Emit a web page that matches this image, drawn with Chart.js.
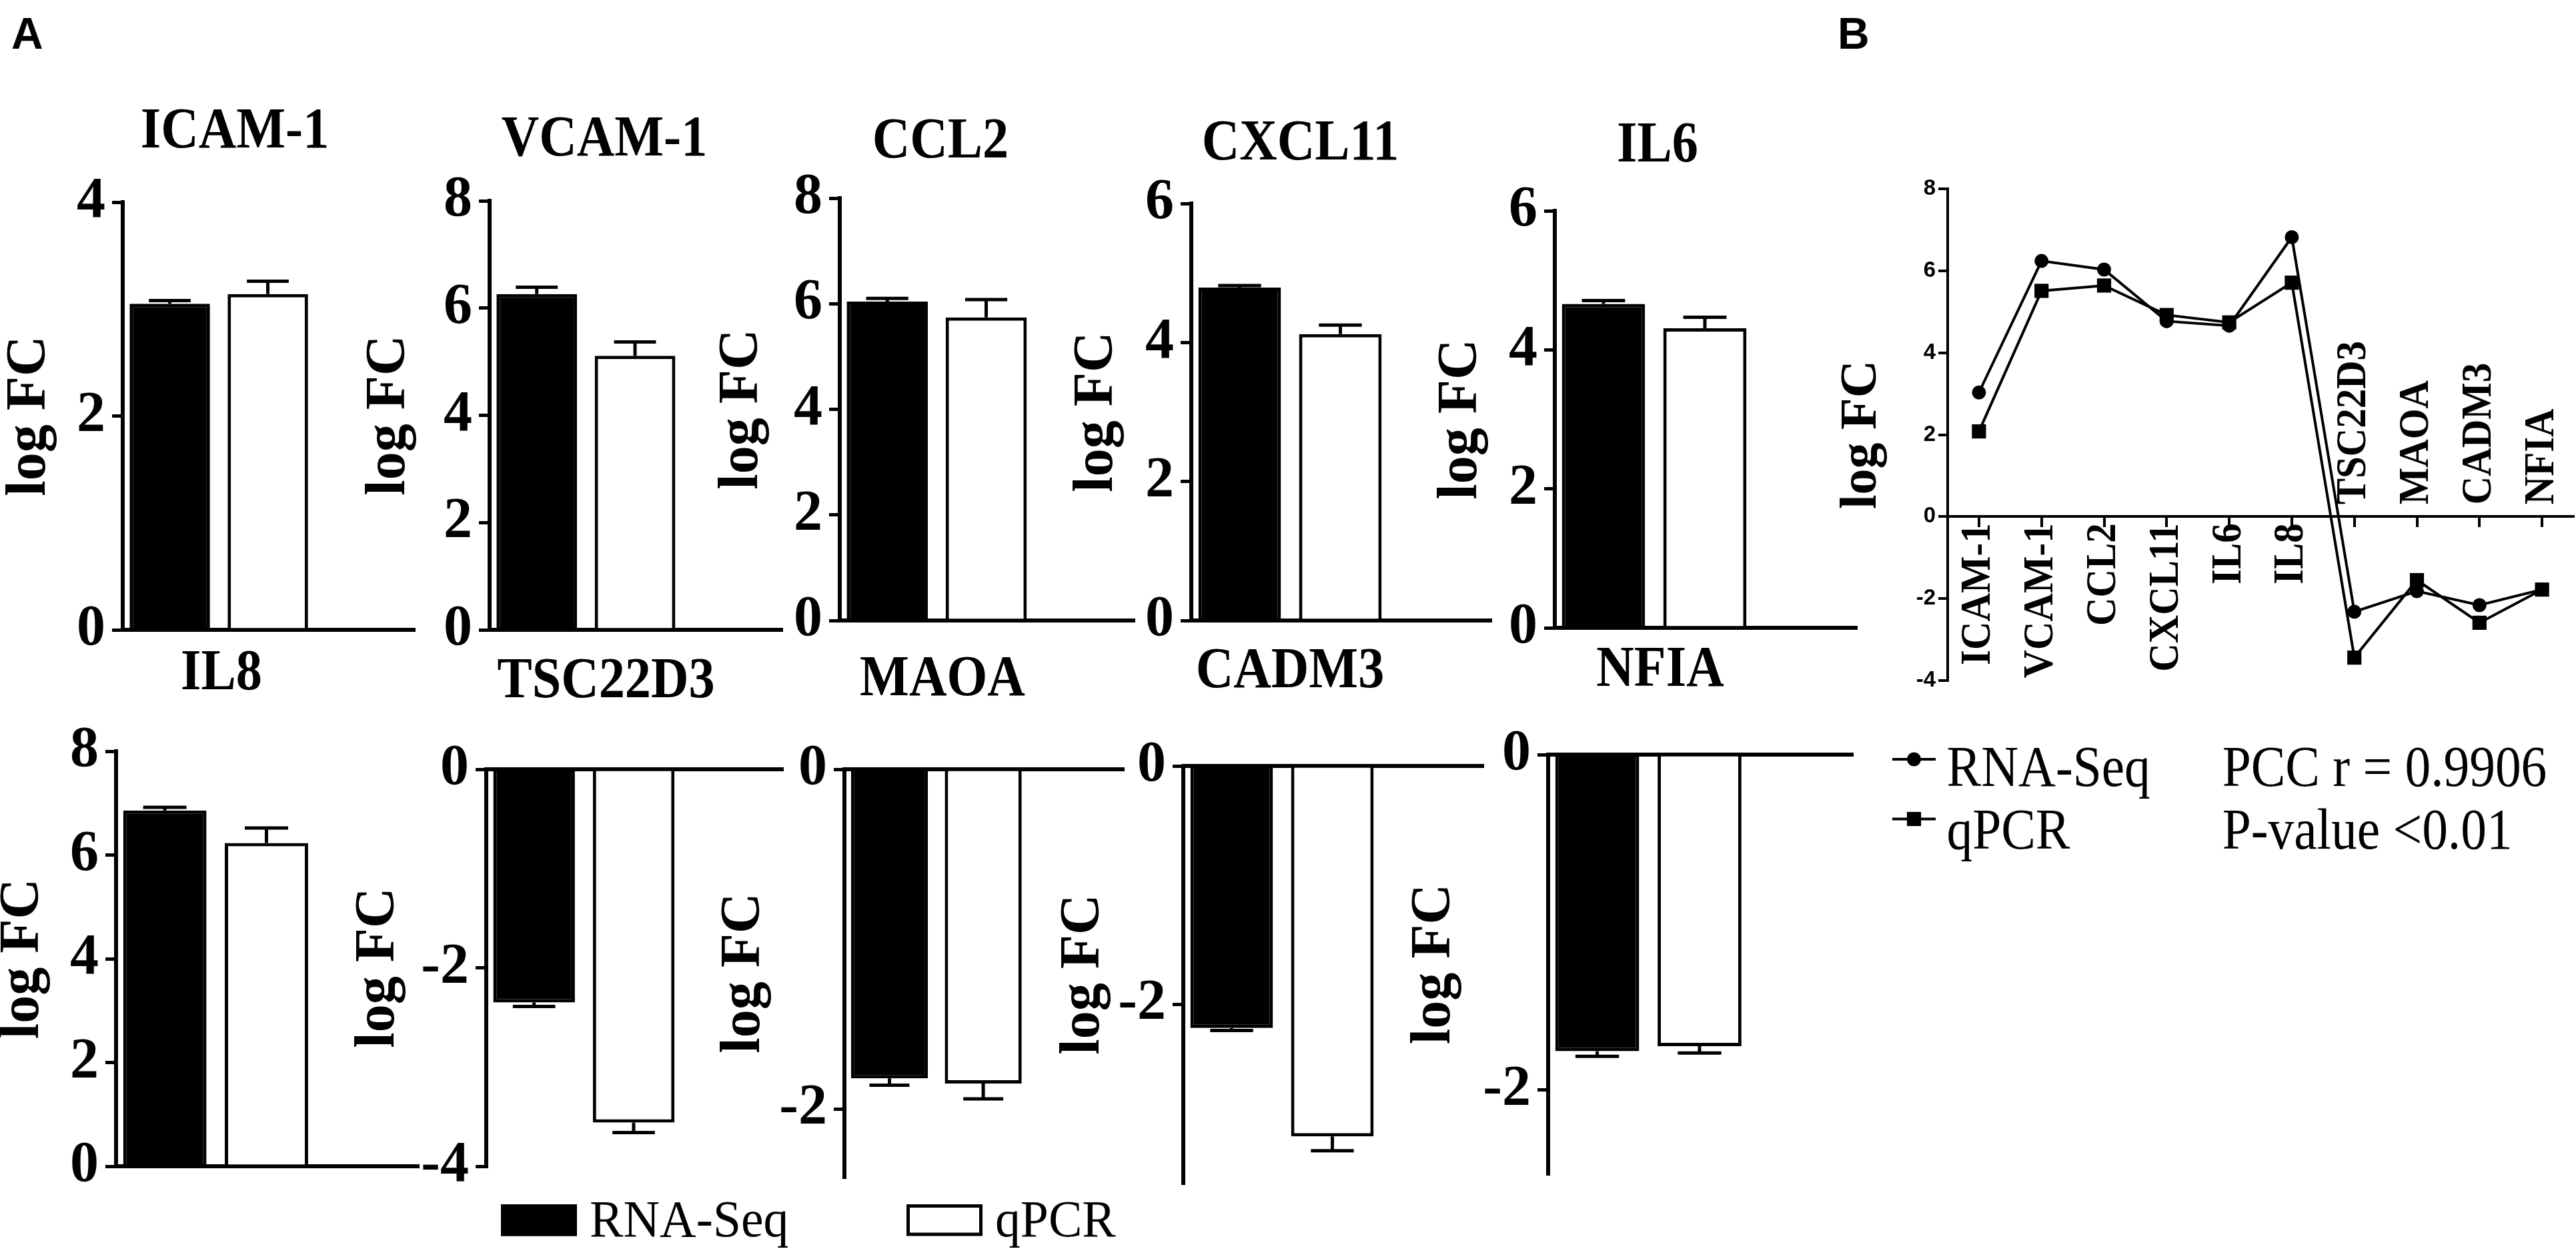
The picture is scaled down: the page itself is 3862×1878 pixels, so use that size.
<!DOCTYPE html>
<html><head><meta charset="utf-8">
<script src="https://cdn.jsdelivr.net/npm/chart.js@4.4.1/dist/chart.umd.min.js"></script>
<style>
html,body{margin:0;padding:0;background:#fff;width:3862px;height:1878px;overflow:hidden;position:relative;}
canvas{position:absolute;}
.panel{position:absolute;font-family:'Liberation Sans',Arial,sans-serif;font-weight:bold;font-size:66px;line-height:66px;color:#000;}
</style></head>
<body>
<div class="panel" style="left:17px;top:17px;">A</div>
<div class="panel" style="left:2755px;top:17px;">B</div>
<script>
// ---------------- data ----------------
const genes = ['ICAM-1','VCAM-1','CCL2','CXCL11','IL6','IL8','TSC22D3','MAOA','CADM3','NFIA'];
const seriesNames = ['RNA-Seq','qPCR'];
// Panel A bars (log FC) and error bars
const rnaSeqFC  = [3.05, 6.26, 6.04, 4.79, 4.66, 6.86, -2.35, -1.82, -2.20, -1.77];
const rnaSeqErr = [0.03, 0.13, 0.06, 0.03, 0.05, 0.06, 0.04, 0.04, 0.02, 0.03];
const qpcrFC    = [3.14, 5.11, 5.74, 4.12, 4.31, 6.23, -3.56, -1.85, -3.11, -1.74];
const qpcrErr   = [0.12, 0.26, 0.34, 0.13, 0.16, 0.29, 0.10, 0.09, 0.12, 0.04];
// Panel A axis ranges
const axisMin = [0, 0, 0, 0, 0, 0, -4, -2.4, -3.5, -2.5];
const axisMax = [4, 8, 8, 6, 6, 8, 0, 0, 0, 0];
// Panel B lines
const lineRnaSeq = [3.03, 6.24, 6.03, 4.77, 4.66, 6.82, -2.32, -1.82, -2.16, -1.78];
const lineQpcr   = [2.08, 5.51, 5.64, 4.92, 4.74, 5.71, -3.44, -1.55, -2.59, -1.78];
const notesB = ['PCC r = 0.9906', 'P-value <0.01'];

// ---------------- layout (page pixels) ----------------
const areas = [
  [184,303,622,944],[734,301,1173,944],[1259,297,1701,930],[1785.5,305,2235,930],[2330.5,316,2783,941],
  [174,1126,628,1748],[729,1153,1174,1748],[1266,1153,1685,1764],[1774,1148,2224,1773],[2321,1130.5,2778,1758]
];
const titlePos = [[352,221],[906,233],[1410,236],[1949,239],[2484.5,242],[332,1033],[908.5,1045],[1413,1042],[1934,1030],[2489,1027]];
const yTitlePad = [34,23.5,27,32.5,33.5,34,12,23,24,3];
const legendHost = 6;
const legendA = {boxX:[751,1359], boxY:1805, boxW:114, boxH:47.5, gap:19, baseline:1852.5};
const areaB = [2920,282.5,3858,1019];
const legendB = {lineX:[2837,2902], rowY:[1137.5,1227], textX:2918.5, baseline:[1177,1271.5], noteX:3331.7};

const SERIF = "'Liberation Serif','Times New Roman',serif";
const SANS = "'Liberation Sans',Arial,sans-serif";
const INK = '#000';
const seriesFill = ['#000000', '#ffffff'];
Chart.defaults.font.family = SERIF;

function condensedText(ctx, text, x, y, font, sx, align) {
  ctx.save(); ctx.translate(x, y); ctx.scale(sx, 1);
  ctx.font = font; ctx.textAlign = align; ctx.textBaseline = 'alphabetic';
  ctx.fillText(text, 0, 0); ctx.restore();
}

const errorBarPlugin = {
  id: 'errorBars',
  afterDatasetsDraw(chart) {
    const ctx = chart.ctx, ys = chart.scales.y;
    chart.data.datasets.forEach((ds, di) => {
      const meta = chart.getDatasetMeta(di);
      meta.data.forEach((el, j) => {
        const v = ds.data[j].y, e = ds.errors[j], dir = v < 0 ? -1 : 1;
        const yv = ys.getPixelForValue(v), ye = ys.getPixelForValue(v + dir * e);
        const half = el.width * 0.26;
        ctx.save(); ctx.strokeStyle = INK; ctx.lineWidth = 5;
        ctx.beginPath(); ctx.moveTo(el.x, yv); ctx.lineTo(el.x, ye);
        ctx.moveTo(el.x - half, ye); ctx.lineTo(el.x + half, ye); ctx.stroke(); ctx.restore();
      });
    });
  }
};

function pagePlugin(area, draw) {
  return { id: 'pageText', afterDraw(chart) {
    const ca = chart.chartArea, ctx = chart.ctx;
    ctx.save(); ctx.translate(ca.left - area[0], ca.top - area[1]);
    ctx.fillStyle = INK; ctx.strokeStyle = INK;
    draw(ctx, chart); ctx.restore();
  }};
}

function drawBarLegend(ctx, datasets) {
  datasets.forEach((ds, k) => {
    const x = legendA.boxX[k], y = legendA.boxY;
    ctx.fillStyle = ds.backgroundColor; ctx.fillRect(x, y, legendA.boxW, legendA.boxH);
    ctx.strokeStyle = ds.borderColor; ctx.lineWidth = 5;
    ctx.strokeRect(x + 2.5, y + 2.5, legendA.boxW - 5, legendA.boxH - 5);
    ctx.fillStyle = INK;
    condensedText(ctx, ds.label, x + legendA.boxW + legendA.gap, legendA.baseline, `78px ${SERIF}`, 0.97, 'left');
  });
}

function barConfig(i) {
  const neg = axisMax[i] <= 0;
  const errs = [rnaSeqErr, qpcrErr];
  const datasets = [rnaSeqFC, qpcrFC].map((vals, k) => ({
    label: seriesNames[k],
    data: [{x: k, y: vals[i]}],
    errors: [errs[k][i]],
    backgroundColor: seriesFill[k], borderColor: INK, borderWidth: 5,
    grouped: false, barPercentage: 0.82, categoryPercentage: 1
  }));
  const plugins = [errorBarPlugin, pagePlugin(areas[i], (ctx) => {
    condensedText(ctx, genes[i], titlePos[i][0], titlePos[i][1], `bold 86px ${SERIF}`, 0.91, 'center');
    if (i === legendHost) drawBarLegend(ctx, datasets);
  })];
  return {
    type: 'bar', data: {datasets}, plugins,
    options: {
      responsive: false, maintainAspectRatio: false, animation: false, devicePixelRatio: 1, events: [],
      layout: {padding: {top: 260, bottom: 140, left: 20, right: i === legendHost ? 560 : 60}},
      plugins: {legend: {display: false}, tooltip: {enabled: false}},
      scales: {
        x: {type: 'linear', position: neg ? 'top' : 'bottom', min: -0.48, max: 2.5, offset: false, z: 1,
            ticks: {display: false, stepSize: 1, includeBounds: false},
            grid: {display: false}, border: {display: true, color: INK, width: 6}},
        y: {type: 'linear', min: axisMin[i], max: axisMax[i],
            ticks: {stepSize: 2, includeBounds: false, color: INK, padding: 10, font: {family: SERIF, size: 86, weight: 'bold'}},
            grid: {drawOnChartArea: false, drawTicks: true, tickLength: 16, lineWidth: 5, color: INK},
            border: {display: true, color: INK, width: 6},
            title: {display: true, text: 'log FC', color: INK, font: {family: SERIF, size: 84, weight: 'bold', lineHeight: 1},
                    padding: {top: yTitlePad[i], bottom: 0}},
            afterFit(s) { s.width = 215; }}
      }
    }
  };
}

const catLabelPlugin = {
  id: 'catLabels',
  afterDraw(chart) {
    const {ctx, scales: {x, y}} = chart;
    const y0 = y.getPixelForValue(0);
    ctx.save(); ctx.font = `bold 64px ${SERIF}`; ctx.fillStyle = INK; ctx.textBaseline = 'middle';
    genes.forEach((g, i) => {
      const px = x.getPixelForValue(i);
      const up = lineRnaSeq[i] >= 0;
      ctx.save(); ctx.translate(px, up ? y0 + 10 : y0 - 18); ctx.rotate(-Math.PI / 2); ctx.scale(0.92, 1);
      ctx.textAlign = up ? 'right' : 'left'; ctx.fillText(g, 0, 0); ctx.restore();
    });
    ctx.restore();
  }
};

function lineConfig() {
  const datasets = [lineRnaSeq, lineQpcr].map((vals, k) => ({
    label: seriesNames[k], data: vals, borderColor: INK, backgroundColor: INK, borderWidth: 4,
    pointStyle: ['circle', 'rect'][k], pointRadius: [10.5, 15][k], pointBorderWidth: 0,
    pointBackgroundColor: INK, tension: 0, fill: false
  }));
  const plugins = [catLabelPlugin, pagePlugin(areaB, (ctx) => {
    datasets.forEach((ds, k) => {
      const y = legendB.rowY[k];
      ctx.lineWidth = 4; ctx.beginPath(); ctx.moveTo(legendB.lineX[0], y); ctx.lineTo(legendB.lineX[1], y); ctx.stroke();
      const cx = (legendB.lineX[0] + legendB.lineX[1]) / 2;
      if (ds.pointStyle === 'circle') { ctx.beginPath(); ctx.arc(cx, y, ds.pointRadius, 0, 2 * Math.PI); ctx.fill(); }
      else { const s = ds.pointRadius * Math.SQRT1_2; ctx.fillRect(cx - s, y - s, 2 * s, 2 * s); }
      condensedText(ctx, ds.label, legendB.textX, legendB.baseline[k], `86px ${SERIF}`, 0.9, 'left');
      condensedText(ctx, notesB[k], legendB.noteX, legendB.baseline[k], `86px ${SERIF}`, 0.9, 'left');
    });
  })];
  return {
    type: 'line', data: {labels: genes, datasets}, plugins,
    options: {
      responsive: false, maintainAspectRatio: false, animation: false, devicePixelRatio: 1, events: [],
      layout: {padding: {top: 60, bottom: 290, left: 20, right: 4}},
      plugins: {legend: {display: false}, tooltip: {enabled: false}},
      scales: {
        x: {type: 'category', offset: true, position: {y: 0},
            ticks: {display: false},
            grid: {drawOnChartArea: false, drawTicks: true, tickLength: 14, lineWidth: 4, color: INK, offset: false},
            border: {display: true, color: INK, width: 4}},
        y: {type: 'linear', min: -4, max: 8,
            ticks: {stepSize: 2, color: INK, padding: 4, font: {family: SANS, size: 33, weight: 'bold'}},
            grid: {drawOnChartArea: false, drawTicks: true, tickLength: 14, lineWidth: 4, color: INK},
            border: {display: true, color: INK, width: 4},
            title: {display: true, text: 'log FC', color: INK, font: {family: SERIF, size: 78, weight: 'bold', lineHeight: 1},
                    padding: {top: 10, bottom: 0}},
            afterFit(s) { s.width = 177; }}
      }
    }
  };
}

function mountChart(area, makeConfig) {
  const tw = area[2] - area[0], th = area[3] - area[1];
  const make = (W, H) => {
    const cv = document.createElement('canvas');
    cv.width = W; cv.height = H; cv.style.width = W + 'px'; cv.style.height = H + 'px';
    cv.style.left = '0px'; cv.style.top = '0px';
    document.body.appendChild(cv);
    return [cv, new Chart(cv, makeConfig())];
  };
  let W = Math.round(tw + 1000), H = Math.round(th + 600);
  let [cv, ch] = make(W, H);
  const a = ch.chartArea;
  W = Math.round(W + tw - (a.right - a.left));
  H = Math.round(H + th - (a.bottom - a.top));
  ch.destroy(); cv.remove();
  [cv, ch] = make(W, H);
  const b = ch.chartArea;
  cv.style.left = (area[0] - b.left) + 'px';
  cv.style.top = (area[1] - b.top) + 'px';
  return ch;
}

genes.forEach((g, i) => mountChart(areas[i], () => barConfig(i)));
mountChart(areaB, lineConfig);
</script>
</body></html>
